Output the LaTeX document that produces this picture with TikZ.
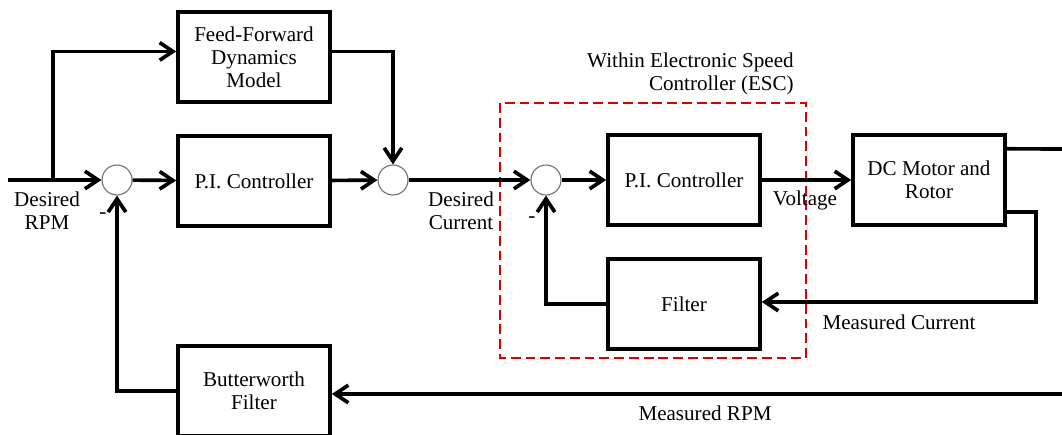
\documentclass[tikz,border=0pt]{standalone}
\usepackage{fontspec}
\setmainfont{Liberation Serif}
\usetikzlibrary{arrows.meta,positioning}

\begin{document}
\begin{tikzpicture}[x=0.025cm, y=-0.025cm, >={Straight Barb[length=3.3mm,width=4.4mm]},
    every node/.style={font=\fontsize{15}{16.4}\selectfont},
    block/.style={draw, line width=2.6pt, minimum width=3.8cm, minimum height=2.25cm, align=center, inner sep=0pt},
    sumnode/.style={circle, draw=black!55, line width=0.8pt, minimum size=0.75cm, inner sep=0pt},
    sig/.style={line width=2.6pt, ->},
    wire/.style={line width=2.6pt},
    lbl/.style={align=center, inner sep=0pt}]
    \useasboundingbox (0,0) rectangle (1062,434);

    % ESC region
    \draw[red!85!black, line width=1.2pt, dash pattern=on 7pt off 3.5pt] (500,103) rectangle (806,358);
    \node[lbl, anchor=east, align=right] (esc) at (794,74) {Within Electronic Speed\\Controller (ESC)};

    % blocks
    \node[block] (ff) at (254,57) {Feed-Forward\\Dynamics\\Model};
    \node[block] (pia) at (254,181) {P.I. Controller};
    \node[block] (butter) at (254,391) {Butterworth\\Filter};
    \node[block] (pib) at (684,180) {P.I. Controller};
    \node[block] (filt) at (684,304) {Filter};
    \node[block] (motor) at (929,180) {DC Motor and\\Rotor};

    % summing junctions
    \node[sumnode] (sa) at (117,180) {};
    \node[sumnode] (sb) at (393,180) {};
    \node[sumnode] (sc) at (546,180) {};

    \coordinate (in) at (8,180);
    \coordinate (br) at (53,180);
    \coordinate (rpmout) at (1062,149);
    \coordinate (rpmin) at (1062,394);
    \coordinate (mc) at (1036,212);

    % signal paths
    \draw[sig] (in) -- (sa);
    \draw[sig] (br) |- ([yshift=0.14cm]ff.west);
    \draw[sig] ([yshift=0.14cm]ff.east) -| (sb);
    \draw[sig] (sa) -- (pia);
    \draw[sig] (pia) -- (sb);
    \draw[sig] (sb) -- (sc);
    \draw[sig] (sc) -- (pib);
    \draw[sig] (pib) -- (motor);
    \draw[wire] ([yshift=0.78cm]motor.east) -- (rpmout);
    \draw[sig] (motor.east |- mc) -- (mc) |- ([yshift=0.05cm]filt.east);
    \draw[sig] (filt.west) -| (sc.south);
    \draw[sig] (rpmin) -- (butter.east |- rpmin);
    \draw[sig] (butter.west) -| (sa.south);

    % labels
    \node[lbl] (lrpm) at (47,211) {Desired\\RPM};
    \node[lbl] (lcur) at (461,211) {Desired\\Current};
    \node[lbl] (lvolt) at (805,200) {Voltage};
    \node[lbl] (lmcur) at (899,322) {Measured Current};
    \node[lbl] (lmrpm) at (705,413) {Measured RPM};
    \node[lbl] (ma) at (103,216) {-};
    \node[lbl] (mb) at (532,220) {-};
\end{tikzpicture}
\end{document}
